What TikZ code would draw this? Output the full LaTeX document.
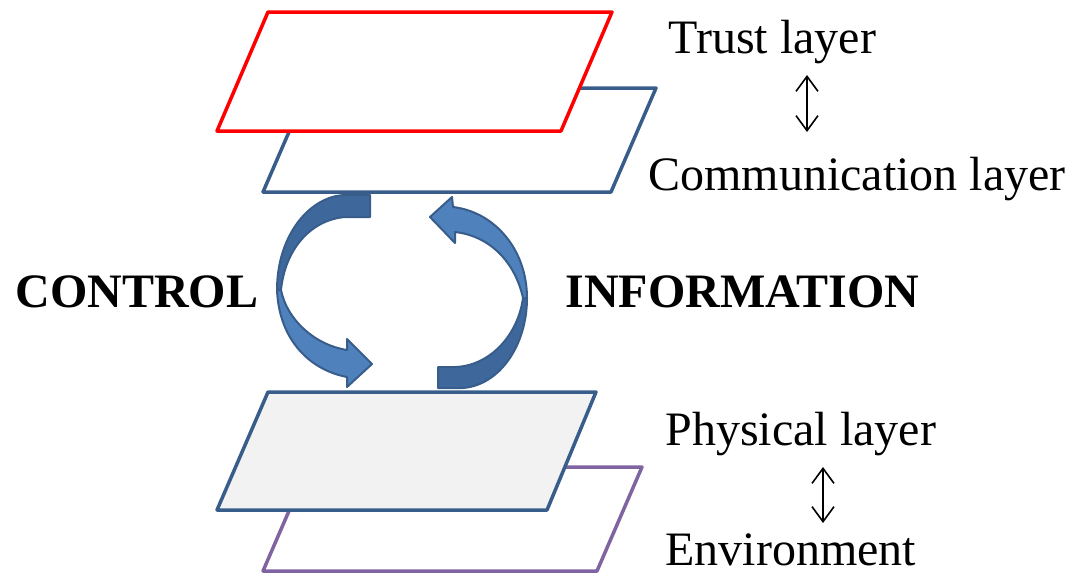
\documentclass[tikz,border=0pt]{standalone}
\usepackage{fontspec}
\setmainfont{LiberationSerif}[Extension=.ttf,UprightFont=*-Regular,BoldFont=*-Bold]
\usetikzlibrary{arrows.meta}

\definecolor{layerblue}{RGB}{56,93,138}
\definecolor{trustred}{RGB}{255,0,0}
\definecolor{envpurple}{RGB}{128,100,162}
\definecolor{physgray}{RGB}{242,242,242}
\definecolor{ribbonlight}{RGB}{79,129,189}
\definecolor{ribbondark}{RGB}{62,104,156}

\tikzset{
  layer/.style={line width=3.5pt,line join=round},
  ribbon/.style={draw=layerblue,line width=2pt,line join=round},
  layertext/.style={anchor=base west,font=\fontsize{48}{56}\selectfont},
  flowtext/.style={anchor=base west,font=\fontsize{48}{56}\selectfont\bfseries},
  updown/.style={line width=1.6pt,{Straight Barb[length=15pt,width=22pt]}-{Straight Barb[length=15pt,width=22pt]}}
}

\begin{document}
\begin{tikzpicture}[x=1pt,y=-1pt]
\useasboundingbox (0,0) rectangle (1075,576);

% \draw[step=50,gray,very thin] (0,0) grid (1075,576);
        % control loop, left
        \fill[ribbonlight,ribbon] (277,290) .. controls (279,340) and (310,370) .. (347,377) -- (347,387) -- (372,364) -- (347,339) -- (347,350) .. controls (315,345) and (287,320) .. (281,290) -- cycle;
        \fill[ribbondark,ribbon] (370,195) -- (370,217) -- (345,217) .. controls (310,220) and (285,250) .. (281,290) -- (277,290) .. controls (277,235) and (310,196) .. (345,195) -- cycle;
        % information loop, right
        \fill[ribbondark,ribbon] (438,367) -- (438,388) -- (463,388) .. controls (500,385) and (527,345) .. (527,298) -- (523,298) .. controls (518,335) and (490,366) .. (455,367) -- cycle;
        \fill[ribbonlight,ribbon] (527,298) .. controls (527,250) and (495,212) .. (453,207) -- (452,197) -- (430,217) -- (455,243) -- (455,232) .. controls (490,236) and (515,262) .. (523,298) -- cycle;

        % layers
        \draw[layer,layerblue,fill=white] (308,88) -- (656,88) -- (611,192) -- (263,192) -- cycle;
        \draw[layer,trustred,fill=white] (268,12) -- (612,12) -- (561,131) -- (217,131) -- cycle;
        \draw[layer,envpurple,fill=white] (308,467) -- (642,467) -- (597,571) -- (263,571) -- cycle;
        \draw[layer,layerblue,fill=physgray] (268,392) -- (596,392) -- (547,510) -- (217,510) -- cycle;

        \node (trust) [layertext] at (665,53) {Trust layer};
        \node (comm) [layertext] at (645,190) {Communication layer};
        \node (phys) [layertext] at (662,445) {Physical layer};
        \node (env) [layertext] at (662,565) {Environment};
        \node (control) [flowtext] at (12,307) {CONTROL};
        \node (info) [flowtext] at (562,307) {INFORMATION};

        \coordinate (trust_top) at (807,75);
        \coordinate (comm_top) at (807,132);
        \coordinate (phys_top) at (823,467);
        \coordinate (env_top) at (823,523);
        \draw[updown] (trust_top) -- (comm_top);
        \draw[updown] (phys_top) -- (env_top);

    \end{tikzpicture}
\end{document}
